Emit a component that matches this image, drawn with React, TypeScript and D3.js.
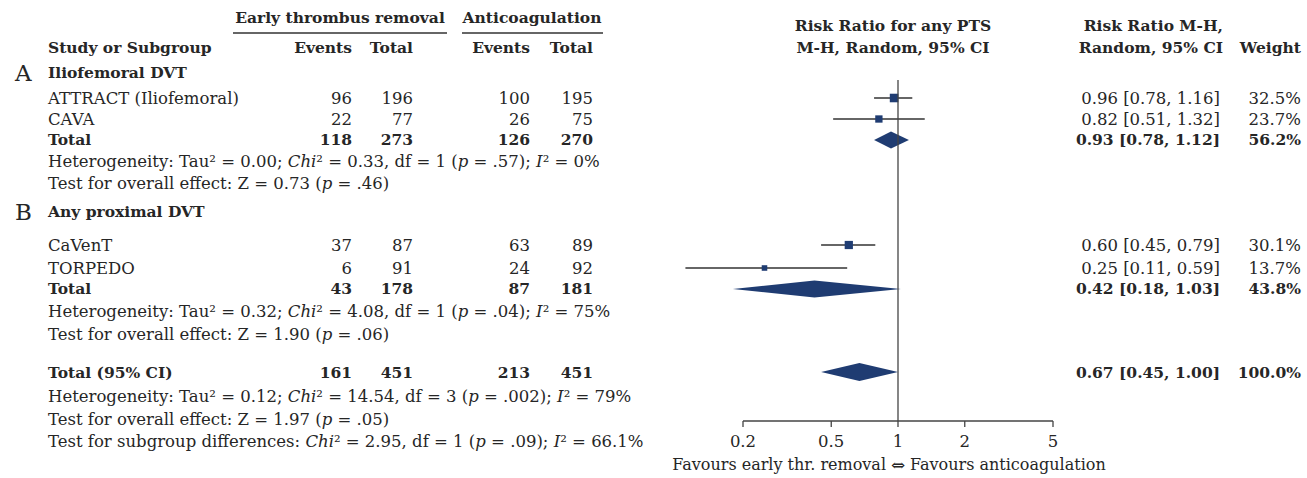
import * as d3 from "d3";

// study level data
const studies = ["ATTRACT (Iliofemoral)", "CAVA", "CaVenT", "TORPEDO"];
const studyGroup = [0, 0, 1, 1];
const expEvents = [96, 22, 37, 6];
const expTotal = [196, 77, 87, 91];
const ctrlEvents = [100, 26, 63, 24];
const ctrlTotal = [195, 75, 89, 92];
const rr = [0.96, 0.82, 0.6, 0.25];
const rrLo = [0.78, 0.51, 0.45, 0.11];
const rrHi = [1.16, 1.32, 0.79, 0.59];
const weights = [32.5, 23.7, 30.1, 13.7];

// subgroups
const groupLetters = ["A", "B"];
const groupNames = ["Iliofemoral DVT", "Any proximal DVT"];
const groupExpEvents = [118, 43];
const groupExpTotal = [273, 178];
const groupCtrlEvents = [126, 87];
const groupCtrlTotal = [270, 181];
const groupRr = [0.93, 0.42];
const groupLo = [0.78, 0.18];
const groupHi = [1.12, 1.03];
const groupWeight = [56.2, 43.8];
const hetTau = ["0.00", "0.32"];
const hetChi = ["0.33", "4.08"];
const hetDf = [1, 1];
const hetP = [".57", ".04"];
const hetI2 = ["0%", "75%"];
const zVal = ["0.73", "1.90"];
const zP = [".46", ".06"];

// overall
const totalCounts = [161, 451, 213, 451];
const totalRr = [0.67, 0.45, 1.0];
const totalWeight = 100.0;
const totalHet = { tau: "0.12", chi: "14.54", df: 3, p: ".002", i2: "79%" };
const totalZ = { z: "1.97", p: ".05" };
const subgroupDiff = { chi: "2.95", df: 1, p: ".09", i2: "66.1%" };

const ticks = [0.2, 0.5, 1, 2, 5];

const FONT = "DejaVu Serif";
const FS = 16.5;
const TXT = "#262626";
const NAVY = "#1f3c72";

const groupRows = [
  { letter: 73, rows: [98, 119], total: 140, het: 161, test: 183 },
  { letter: 212, rows: [245, 268], total: 289, het: 311, test: 334 },
];

const colX = { name: 48, expE: 352, expT: 413, ctrlE: 530, ctrlT: 593, ci: 1220, w: 1301 };

const fmtCi = (m: number, l: number, h: number) =>
  `${m.toFixed(2)} [${l.toFixed(2)}, ${h.toFixed(2)}]`;

function Het({ y, tau, chi, df, p, i2 }: any) {
  return (
    <text x={colX.name} y={y} dy="0.35em">
      Heterogeneity: Tau² = {tau}; <tspan fontStyle="italic">Chi</tspan>² = {chi}, df = {df} (
      <tspan fontStyle="italic">p</tspan> = {p}); <tspan fontStyle="italic">I</tspan>² = {i2}
    </text>
  );
}

export default function App() {
  const x = d3.scaleLog().domain([0.2, 5]).range([743, 1053]);
  const axisY = 421;
  const size = (w: number) => 1.5 * Math.sqrt(w);

  const diamond = (y: number, m: number, l: number, h: number, hh: number) =>
    `M${x(l)},${y} L${x(m)},${y - hh} L${x(h)},${y} L${x(m)},${y + hh} Z`;

  const studyY = studies.map((_, i) => {
    const g = studyGroup[i];
    const k = studyGroup.slice(0, i).filter((v) => v === g).length;
    return groupRows[g].rows[k];
  });

  return (
    <svg
      width={1307}
      height={478}
      style={{ position: "absolute", left: 0, top: 0, background: "#fff" }}
      fontFamily={FONT}
      fontSize={FS}
      fill={TXT}
    >
      {/* headers */}
      <g fontWeight="bold" fontSize={15.5}>
        <text x={340} y={18} dy="0.35em" textAnchor="middle">Early thrombus removal</text>
        <text x={532} y={18} dy="0.35em" textAnchor="middle">Anticoagulation</text>
        <text x={colX.name} y={48} dy="0.35em">Study or Subgroup</text>
        <text x={colX.expE} y={48} dy="0.35em" textAnchor="end">Events</text>
        <text x={colX.expT} y={48} dy="0.35em" textAnchor="end">Total</text>
        <text x={colX.ctrlE} y={48} dy="0.35em" textAnchor="end">Events</text>
        <text x={colX.ctrlT} y={48} dy="0.35em" textAnchor="end">Total</text>
        <text x={893} y={26} dy="0.35em" textAnchor="middle">Risk Ratio for any PTS</text>
        <text x={893} y={48} dy="0.35em" textAnchor="middle">M-H, Random, 95% CI</text>
        <text x={1223} y={26} dy="0.35em" textAnchor="end">Risk Ratio M-H,</text>
        <text x={1223} y={48} dy="0.35em" textAnchor="end">Random, 95% CI</text>
        <text x={colX.w} y={48} dy="0.35em" textAnchor="end">Weight</text>
      </g>
      <line x1={233} x2={447} y1={33} y2={33} stroke="#333" strokeWidth={1.6} />
      <line x1={462} x2={603} y1={33} y2={33} stroke="#333" strokeWidth={1.6} />

      {/* subgroups */}
      {groupNames.map((name, g) => {
        const r = groupRows[g];
        return (
          <g key={name}>
            <text x={15} y={r.letter} dy="0.35em" fontSize={23}>{groupLetters[g]}</text>
            <text x={colX.name} y={r.letter} dy="0.35em" fontWeight="bold" fontSize={15.5}>{name}</text>
            <g fontWeight="bold" fontSize={15.5}>
              <text x={colX.name} y={r.total} dy="0.35em">Total</text>
              <text x={colX.expE} y={r.total} dy="0.35em" textAnchor="end">{groupExpEvents[g]}</text>
              <text x={colX.expT} y={r.total} dy="0.35em" textAnchor="end">{groupExpTotal[g]}</text>
              <text x={colX.ctrlE} y={r.total} dy="0.35em" textAnchor="end">{groupCtrlEvents[g]}</text>
              <text x={colX.ctrlT} y={r.total} dy="0.35em" textAnchor="end">{groupCtrlTotal[g]}</text>
              <text x={colX.ci} y={r.total} dy="0.35em" textAnchor="end">
                {fmtCi(groupRr[g], groupLo[g], groupHi[g])}
              </text>
              <text x={colX.w} y={r.total} dy="0.35em" textAnchor="end">{groupWeight[g].toFixed(1)}%</text>
            </g>
            <Het y={r.het} tau={hetTau[g]} chi={hetChi[g]} df={hetDf[g]} p={hetP[g]} i2={hetI2[g]} />
            <text x={colX.name} y={r.test} dy="0.35em">
              Test for overall effect: Z = {zVal[g]} (<tspan fontStyle="italic">p</tspan> = {zP[g]})
            </text>
            <path d={diamond(r.total, groupRr[g], groupLo[g], groupHi[g], 8.5)} fill={NAVY} />
          </g>
        );
      })}

      {/* studies */}
      {studies.map((s, i) => {
        const y = studyY[i];
        const sz = size(weights[i]);
        return (
          <g key={s}>
            <text x={colX.name} y={y} dy="0.35em">{s}</text>
            <text x={colX.expE} y={y} dy="0.35em" textAnchor="end">{expEvents[i]}</text>
            <text x={colX.expT} y={y} dy="0.35em" textAnchor="end">{expTotal[i]}</text>
            <text x={colX.ctrlE} y={y} dy="0.35em" textAnchor="end">{ctrlEvents[i]}</text>
            <text x={colX.ctrlT} y={y} dy="0.35em" textAnchor="end">{ctrlTotal[i]}</text>
            <text x={colX.ci} y={y} dy="0.35em" textAnchor="end">{fmtCi(rr[i], rrLo[i], rrHi[i])}</text>
            <text x={colX.w} y={y} dy="0.35em" textAnchor="end">{weights[i].toFixed(1)}%</text>
            <line x1={x(rrLo[i])} x2={x(rrHi[i])} y1={y} y2={y} stroke="#333" strokeWidth={1.3} />
            <rect x={x(rr[i]) - sz / 2} y={y - sz / 2} width={sz} height={sz} fill={NAVY} />
          </g>
        );
      })}

      {/* overall */}
      <g fontWeight="bold" fontSize={15.5}>
        <text x={colX.name} y={373} dy="0.35em">Total (95% CI)</text>
        <text x={colX.expE} y={373} dy="0.35em" textAnchor="end">{totalCounts[0]}</text>
        <text x={colX.expT} y={373} dy="0.35em" textAnchor="end">{totalCounts[1]}</text>
        <text x={colX.ctrlE} y={373} dy="0.35em" textAnchor="end">{totalCounts[2]}</text>
        <text x={colX.ctrlT} y={373} dy="0.35em" textAnchor="end">{totalCounts[3]}</text>
        <text x={colX.ci} y={373} dy="0.35em" textAnchor="end">{fmtCi(totalRr[0], totalRr[1], totalRr[2])}</text>
        <text x={colX.w} y={373} dy="0.35em" textAnchor="end">{totalWeight.toFixed(1)}%</text>
      </g>
      <path d={diamond(372, totalRr[0], totalRr[1], totalRr[2], 9)} fill={NAVY} />
      <Het y={396} {...totalHet} />
      <text x={colX.name} y={419} dy="0.35em">
        Test for overall effect: Z = {totalZ.z} (<tspan fontStyle="italic">p</tspan> = {totalZ.p})
      </text>
      <text x={colX.name} y={441} dy="0.35em">
        Test for subgroup differences: <tspan fontStyle="italic">Chi</tspan>² = {subgroupDiff.chi}, df ={" "}
        {subgroupDiff.df} (<tspan fontStyle="italic">p</tspan> = {subgroupDiff.p});{" "}
        <tspan fontStyle="italic">I</tspan>² = {subgroupDiff.i2}
      </text>

      {/* plot axis */}
      <line x1={x(1)} x2={x(1)} y1={80} y2={axisY} stroke="#444" strokeWidth={1.3} />
      <line x1={x(0.2)} x2={x(5)} y1={axisY} y2={axisY} stroke="#444" strokeWidth={1.3} />
      {ticks.map((t) => (
        <g key={t}>
          <line x1={x(t)} x2={x(t)} y1={axisY} y2={axisY + 6} stroke="#444" strokeWidth={1.3} />
          <text x={x(t)} y={441} dy="0.35em" textAnchor="middle">{t}</text>
        </g>
      ))}
      <g fontSize={16}>
        <text x={x(1) - 12} y={464} dy="0.35em" textAnchor="end">Favours early thr. removal</text>
        <text x={x(1)} y={465} dy="0.35em" textAnchor="middle" fontSize={17}>⇔</text>
        <text x={x(1) + 12} y={464} dy="0.35em">Favours anticoagulation</text>
      </g>
    </svg>
  );
}
